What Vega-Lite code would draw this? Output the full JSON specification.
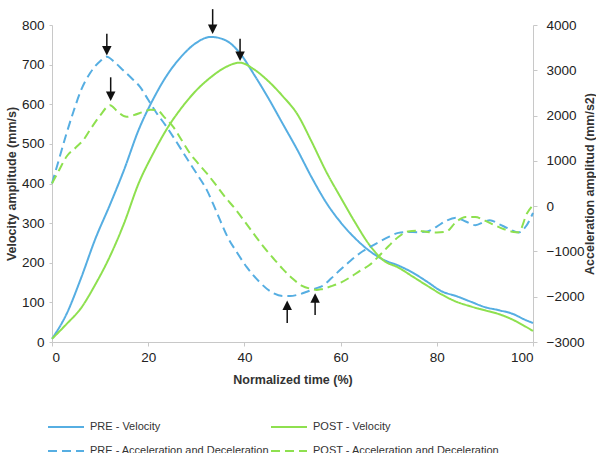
{
  "$schema": "https://vega.github.io/schema/vega-lite/v6.json",
  "width": 481,
  "height": 317,
  "autosize": {"type": "none"},
  "padding": {"left": 52, "top": 25, "right": 63, "bottom": 111},
  "background": "white",
  "config": {
    "view": {"stroke": null},
    "axis": {
      "grid": false,
      "domainColor": "#c8c8c8",
      "tickColor": "#c8c8c8",
      "labelFont": "Liberation Sans",
      "labelColor": "#222222",
      "labelFontSize": 13.5,
      "labelOverlap": false,
      "titleFont": "Liberation Sans Narrow, Liberation Sans",
      "titleFontSize": 12.5,
      "titleColor": "#333333",
      "titleFontWeight": "bold"
    }
  },
  "datasets": {
    "vel": [
      {"t": 0, "s": "PRE - Velocity", "v": 8}, {"t": 3, "s": "PRE - Velocity", "v": 70}, {"t": 6, "s": "PRE - Velocity", "v": 160}, {"t": 9, "s": "PRE - Velocity", "v": 260}, {"t": 12, "s": "PRE - Velocity", "v": 345}, {"t": 15, "s": "PRE - Velocity", "v": 435}, {"t": 18, "s": "PRE - Velocity", "v": 535}, {"t": 21, "s": "PRE - Velocity", "v": 612}, {"t": 24, "s": "PRE - Velocity", "v": 675}, {"t": 27, "s": "PRE - Velocity", "v": 722}, {"t": 30, "s": "PRE - Velocity", "v": 755}, {"t": 33, "s": "PRE - Velocity", "v": 770}, {"t": 36, "s": "PRE - Velocity", "v": 762}, {"t": 39, "s": "PRE - Velocity", "v": 730}, {"t": 42, "s": "PRE - Velocity", "v": 675}, {"t": 45, "s": "PRE - Velocity", "v": 615}, {"t": 48, "s": "PRE - Velocity", "v": 550}, {"t": 51, "s": "PRE - Velocity", "v": 485}, {"t": 54, "s": "PRE - Velocity", "v": 415}, {"t": 57, "s": "PRE - Velocity", "v": 352}, {"t": 60, "s": "PRE - Velocity", "v": 302}, {"t": 63, "s": "PRE - Velocity", "v": 262}, {"t": 66, "s": "PRE - Velocity", "v": 230}, {"t": 69, "s": "PRE - Velocity", "v": 207}, {"t": 72, "s": "PRE - Velocity", "v": 193}, {"t": 75, "s": "PRE - Velocity", "v": 175}, {"t": 78, "s": "PRE - Velocity", "v": 152}, {"t": 81, "s": "PRE - Velocity", "v": 128}, {"t": 84, "s": "PRE - Velocity", "v": 116}, {"t": 87, "s": "PRE - Velocity", "v": 102}, {"t": 90, "s": "PRE - Velocity", "v": 88}, {"t": 93, "s": "PRE - Velocity", "v": 80}, {"t": 96, "s": "PRE - Velocity", "v": 70}, {"t": 98, "s": "PRE - Velocity", "v": 58}, {"t": 100, "s": "PRE - Velocity", "v": 48},
      {"t": 0, "s": "POST - Velocity", "v": 8}, {"t": 3, "s": "POST - Velocity", "v": 45}, {"t": 6, "s": "POST - Velocity", "v": 85}, {"t": 9, "s": "POST - Velocity", "v": 145}, {"t": 12, "s": "POST - Velocity", "v": 215}, {"t": 15, "s": "POST - Velocity", "v": 300}, {"t": 18, "s": "POST - Velocity", "v": 400}, {"t": 21, "s": "POST - Velocity", "v": 475}, {"t": 24, "s": "POST - Velocity", "v": 540}, {"t": 27, "s": "POST - Velocity", "v": 592}, {"t": 30, "s": "POST - Velocity", "v": 635}, {"t": 33, "s": "POST - Velocity", "v": 668}, {"t": 36, "s": "POST - Velocity", "v": 693}, {"t": 39, "s": "POST - Velocity", "v": 705}, {"t": 42, "s": "POST - Velocity", "v": 688}, {"t": 45, "s": "POST - Velocity", "v": 658}, {"t": 48, "s": "POST - Velocity", "v": 620}, {"t": 51, "s": "POST - Velocity", "v": 575}, {"t": 54, "s": "POST - Velocity", "v": 505}, {"t": 57, "s": "POST - Velocity", "v": 430}, {"t": 60, "s": "POST - Velocity", "v": 365}, {"t": 63, "s": "POST - Velocity", "v": 302}, {"t": 66, "s": "POST - Velocity", "v": 245}, {"t": 69, "s": "POST - Velocity", "v": 205}, {"t": 72, "s": "POST - Velocity", "v": 188}, {"t": 75, "s": "POST - Velocity", "v": 165}, {"t": 78, "s": "POST - Velocity", "v": 142}, {"t": 81, "s": "POST - Velocity", "v": 120}, {"t": 84, "s": "POST - Velocity", "v": 102}, {"t": 87, "s": "POST - Velocity", "v": 90}, {"t": 90, "s": "POST - Velocity", "v": 80}, {"t": 93, "s": "POST - Velocity", "v": 70}, {"t": 96, "s": "POST - Velocity", "v": 55}, {"t": 98, "s": "POST - Velocity", "v": 42}, {"t": 100, "s": "POST - Velocity", "v": 28}
    ],
    "acc": [
      {"t": 0, "s": "PRE - Acceleration and Deceleration", "a": 500}, {"t": 1.5, "s": "PRE - Acceleration and Deceleration", "a": 1050}, {"t": 3, "s": "PRE - Acceleration and Deceleration", "a": 1600}, {"t": 4.5, "s": "PRE - Acceleration and Deceleration", "a": 2100}, {"t": 6, "s": "PRE - Acceleration and Deceleration", "a": 2550}, {"t": 8, "s": "PRE - Acceleration and Deceleration", "a": 2950}, {"t": 10, "s": "PRE - Acceleration and Deceleration", "a": 3200}, {"t": 11.4, "s": "PRE - Acceleration and Deceleration", "a": 3300}, {"t": 13, "s": "PRE - Acceleration and Deceleration", "a": 3180}, {"t": 14.8, "s": "PRE - Acceleration and Deceleration", "a": 3000}, {"t": 16.5, "s": "PRE - Acceleration and Deceleration", "a": 2830}, {"t": 18.3, "s": "PRE - Acceleration and Deceleration", "a": 2634}, {"t": 20, "s": "PRE - Acceleration and Deceleration", "a": 2350}, {"t": 21.8, "s": "PRE - Acceleration and Deceleration", "a": 2047}, {"t": 23.5, "s": "PRE - Acceleration and Deceleration", "a": 1800}, {"t": 25.2, "s": "PRE - Acceleration and Deceleration", "a": 1530}, {"t": 27, "s": "PRE - Acceleration and Deceleration", "a": 1230}, {"t": 28.7, "s": "PRE - Acceleration and Deceleration", "a": 942}, {"t": 30.5, "s": "PRE - Acceleration and Deceleration", "a": 650}, {"t": 32.2, "s": "PRE - Acceleration and Deceleration", "a": 353}, {"t": 33.5, "s": "PRE - Acceleration and Deceleration", "a": 50}, {"t": 34.9, "s": "PRE - Acceleration and Deceleration", "a": -300}, {"t": 36.5, "s": "PRE - Acceleration and Deceleration", "a": -680}, {"t": 38.5, "s": "PRE - Acceleration and Deceleration", "a": -1030}, {"t": 40.5, "s": "PRE - Acceleration and Deceleration", "a": -1347}, {"t": 43, "s": "PRE - Acceleration and Deceleration", "a": -1660}, {"t": 46, "s": "PRE - Acceleration and Deceleration", "a": -1921}, {"t": 48, "s": "PRE - Acceleration and Deceleration", "a": -1985}, {"t": 49.5, "s": "PRE - Acceleration and Deceleration", "a": -1985}, {"t": 51, "s": "PRE - Acceleration and Deceleration", "a": -1960}, {"t": 53, "s": "PRE - Acceleration and Deceleration", "a": -1890}, {"t": 55, "s": "PRE - Acceleration and Deceleration", "a": -1810}, {"t": 56.3, "s": "PRE - Acceleration and Deceleration", "a": -1760}, {"t": 58, "s": "PRE - Acceleration and Deceleration", "a": -1600}, {"t": 60, "s": "PRE - Acceleration and Deceleration", "a": -1400}, {"t": 62, "s": "PRE - Acceleration and Deceleration", "a": -1210}, {"t": 64, "s": "PRE - Acceleration and Deceleration", "a": -1040}, {"t": 66, "s": "PRE - Acceleration and Deceleration", "a": -910}, {"t": 68, "s": "PRE - Acceleration and Deceleration", "a": -790}, {"t": 70, "s": "PRE - Acceleration and Deceleration", "a": -680}, {"t": 72, "s": "PRE - Acceleration and Deceleration", "a": -590}, {"t": 74, "s": "PRE - Acceleration and Deceleration", "a": -570}, {"t": 76, "s": "PRE - Acceleration and Deceleration", "a": -575}, {"t": 78, "s": "PRE - Acceleration and Deceleration", "a": -560}, {"t": 80, "s": "PRE - Acceleration and Deceleration", "a": -450}, {"t": 82, "s": "PRE - Acceleration and Deceleration", "a": -320}, {"t": 84, "s": "PRE - Acceleration and Deceleration", "a": -255}, {"t": 86, "s": "PRE - Acceleration and Deceleration", "a": -340}, {"t": 88, "s": "PRE - Acceleration and Deceleration", "a": -420}, {"t": 90, "s": "PRE - Acceleration and Deceleration", "a": -340}, {"t": 91, "s": "PRE - Acceleration and Deceleration", "a": -309}, {"t": 93, "s": "PRE - Acceleration and Deceleration", "a": -400}, {"t": 95, "s": "PRE - Acceleration and Deceleration", "a": -500}, {"t": 97, "s": "PRE - Acceleration and Deceleration", "a": -580}, {"t": 98.5, "s": "PRE - Acceleration and Deceleration", "a": -450}, {"t": 100, "s": "PRE - Acceleration and Deceleration", "a": -150},
      {"t": 0, "s": "POST - Acceleration and Deceleration", "a": 500}, {"t": 1.5, "s": "POST - Acceleration and Deceleration", "a": 800}, {"t": 3, "s": "POST - Acceleration and Deceleration", "a": 1090}, {"t": 5, "s": "POST - Acceleration and Deceleration", "a": 1300}, {"t": 6.5, "s": "POST - Acceleration and Deceleration", "a": 1457}, {"t": 8, "s": "POST - Acceleration and Deceleration", "a": 1700}, {"t": 10, "s": "POST - Acceleration and Deceleration", "a": 2000}, {"t": 12.1, "s": "POST - Acceleration and Deceleration", "a": 2230}, {"t": 13.5, "s": "POST - Acceleration and Deceleration", "a": 2100}, {"t": 15.5, "s": "POST - Acceleration and Deceleration", "a": 1972}, {"t": 17, "s": "POST - Acceleration and Deceleration", "a": 2010}, {"t": 19, "s": "POST - Acceleration and Deceleration", "a": 2082}, {"t": 20.5, "s": "POST - Acceleration and Deceleration", "a": 2130}, {"t": 21.8, "s": "POST - Acceleration and Deceleration", "a": 2120}, {"t": 23.5, "s": "POST - Acceleration and Deceleration", "a": 1950}, {"t": 25.2, "s": "POST - Acceleration and Deceleration", "a": 1751}, {"t": 27, "s": "POST - Acceleration and Deceleration", "a": 1450}, {"t": 28.7, "s": "POST - Acceleration and Deceleration", "a": 1163}, {"t": 30.5, "s": "POST - Acceleration and Deceleration", "a": 930}, {"t": 32.2, "s": "POST - Acceleration and Deceleration", "a": 722}, {"t": 34, "s": "POST - Acceleration and Deceleration", "a": 480}, {"t": 36, "s": "POST - Acceleration and Deceleration", "a": 200}, {"t": 38, "s": "POST - Acceleration and Deceleration", "a": -50}, {"t": 40, "s": "POST - Acceleration and Deceleration", "a": -330}, {"t": 42, "s": "POST - Acceleration and Deceleration", "a": -620}, {"t": 44, "s": "POST - Acceleration and Deceleration", "a": -900}, {"t": 46, "s": "POST - Acceleration and Deceleration", "a": -1150}, {"t": 48, "s": "POST - Acceleration and Deceleration", "a": -1390}, {"t": 50, "s": "POST - Acceleration and Deceleration", "a": -1600}, {"t": 52, "s": "POST - Acceleration and Deceleration", "a": -1760}, {"t": 54, "s": "POST - Acceleration and Deceleration", "a": -1830}, {"t": 55, "s": "POST - Acceleration and Deceleration", "a": -1850}, {"t": 56, "s": "POST - Acceleration and Deceleration", "a": -1835}, {"t": 58, "s": "POST - Acceleration and Deceleration", "a": -1770}, {"t": 60, "s": "POST - Acceleration and Deceleration", "a": -1690}, {"t": 62, "s": "POST - Acceleration and Deceleration", "a": -1570}, {"t": 64, "s": "POST - Acceleration and Deceleration", "a": -1430}, {"t": 66, "s": "POST - Acceleration and Deceleration", "a": -1300}, {"t": 68, "s": "POST - Acceleration and Deceleration", "a": -1100}, {"t": 70, "s": "POST - Acceleration and Deceleration", "a": -880}, {"t": 72, "s": "POST - Acceleration and Deceleration", "a": -680}, {"t": 74, "s": "POST - Acceleration and Deceleration", "a": -560}, {"t": 76, "s": "POST - Acceleration and Deceleration", "a": -540}, {"t": 78, "s": "POST - Acceleration and Deceleration", "a": -570}, {"t": 80, "s": "POST - Acceleration and Deceleration", "a": -580}, {"t": 82, "s": "POST - Acceleration and Deceleration", "a": -560}, {"t": 84, "s": "POST - Acceleration and Deceleration", "a": -350}, {"t": 86, "s": "POST - Acceleration and Deceleration", "a": -240}, {"t": 88, "s": "POST - Acceleration and Deceleration", "a": -240}, {"t": 90, "s": "POST - Acceleration and Deceleration", "a": -320}, {"t": 92, "s": "POST - Acceleration and Deceleration", "a": -420}, {"t": 94, "s": "POST - Acceleration and Deceleration", "a": -510}, {"t": 96, "s": "POST - Acceleration and Deceleration", "a": -570}, {"t": 97, "s": "POST - Acceleration and Deceleration", "a": -575}, {"t": 98.8, "s": "POST - Acceleration and Deceleration", "a": -150}, {"t": 100, "s": "POST - Acceleration and Deceleration", "a": 20}
    ],
    "arrows": [
      {"t": 11.4, "tail": 778, "head": 735, "dir": "down"},
      {"t": 12.2, "tail": 668, "head": 620, "dir": "down"},
      {"t": 33.4, "tail": 840, "head": 789, "dir": "down"},
      {"t": 39.1, "tail": 765, "head": 721, "dir": "down"},
      {"t": 48.9, "tail": 48, "head": 93, "dir": "up"},
      {"t": 54.7, "tail": 68, "head": 111, "dir": "up"}
    ]
  },
  "layer": [
    {
      "layer": [
        {
          "data": {"name": "vel"},
          "mark": {"type": "line", "interpolate": "monotone", "strokeWidth": 2},
          "encoding": {
            "x": {"field": "t", "type": "quantitative", "scale": {"domain": [0, 100], "nice": false},
              "axis": {"title": "Normalized time (%)", "values": [0, 20, 40, 60, 80, 100], "tickSize": 4, "labelPadding": 4, "titlePadding": 10}},
            "y": {"field": "v", "type": "quantitative", "scale": {"domain": [0, 800], "nice": false},
              "axis": {"title": "Velocity amplitude (mm/s)", "values": [0, 100, 200, 300, 400, 500, 600, 700, 800], "labelOverlap": false, "tickSize": 3, "labelPadding": 5, "titlePadding": 3}},
            "color": {"field": "s", "type": "nominal",
              "scale": {"domain": ["PRE - Velocity", "POST - Velocity", "PRE - Acceleration and Deceleration", "POST - Acceleration and Deceleration"], "range": ["#56AEE2", "#8EE04F", "#56AEE2", "#8EE04F"]},
              "legend": {"title": null, "orient": "none", "direction": "horizontal", "legendX": -5, "legendY": 383, "columns": 2, "symbolType": "stroke", "symbolStrokeWidth": 2, "symbolSize": 1296, "labelFont": "Liberation Sans Narrow, Liberation Sans", "labelFontSize": 11, "labelColor": "#333333", "columnPadding": -8, "rowPadding": -13, "labelLimit": 300, "labelOffset": 5}},
            "strokeDash": {"field": "s", "type": "nominal",
              "scale": {"domain": ["PRE - Velocity", "POST - Velocity", "PRE - Acceleration and Deceleration", "POST - Acceleration and Deceleration"], "range": [[1, 0], [1, 0], [9, 5], [9, 5]]},
              "legend": {"title": null, "orient": "none", "direction": "horizontal", "legendX": -5, "legendY": 383, "columns": 2, "symbolType": "stroke", "symbolStrokeWidth": 2, "symbolSize": 1296, "labelFont": "Liberation Sans Narrow, Liberation Sans", "labelFontSize": 11, "labelColor": "#333333", "columnPadding": -8, "rowPadding": -13, "labelLimit": 300, "labelOffset": 5}}
          }
        },
        {
          "data": {"name": "arrows"},
          "mark": {"type": "rule", "color": "#111111", "strokeWidth": 1.5},
          "encoding": {
            "x": {"field": "t", "type": "quantitative"},
            "y": {"field": "tail", "type": "quantitative",
              "axis": {"title": "Velocity amplitude (mm/s)", "values": [0, 100, 200, 300, 400, 500, 600, 700, 800], "labelOverlap": false, "tickSize": 3, "labelPadding": 5, "titlePadding": 3}},
            "y2": {"field": "head"}
          }
        },
        {
          "data": {"name": "arrows"},
          "mark": {"type": "point", "filled": true, "color": "#111111", "size": 90, "opacity": 1},
          "encoding": {
            "x": {"field": "t", "type": "quantitative"},
            "y": {"field": "head", "type": "quantitative",
              "axis": {"title": "Velocity amplitude (mm/s)", "values": [0, 100, 200, 300, 400, 500, 600, 700, 800], "labelOverlap": false, "tickSize": 3, "labelPadding": 5, "titlePadding": 3}},
            "shape": {"field": "dir", "type": "nominal", "scale": {"domain": ["down", "up"], "range": ["M-1,-1L1,-1L0,1Z", "M-1,1L1,1L0,-1Z"]}, "legend": null}
          }
        }
      ]
    },
    {
      "data": {"name": "acc"},
      "mark": {"type": "line", "interpolate": "monotone", "strokeWidth": 2},
      "encoding": {
        "x": {"field": "t", "type": "quantitative"},
        "y": {"field": "a", "type": "quantitative", "scale": {"domain": [-3000, 4000], "nice": false},
          "axis": {"orient": "right", "title": "Acceleration amplitud (mm/s2)", "format": "d", "values": [-3000, -2000, -1000, 0, 1000, 2000, 3000, 4000], "tickSize": 4, "labelPadding": 9, "titlePadding": 13, "titleAngle": 270}},
        "color": {"field": "s", "type": "nominal"},
        "strokeDash": {"field": "s", "type": "nominal"}
      }
    }
  ],
  "resolve": {"scale": {"y": "independent"}}
}
